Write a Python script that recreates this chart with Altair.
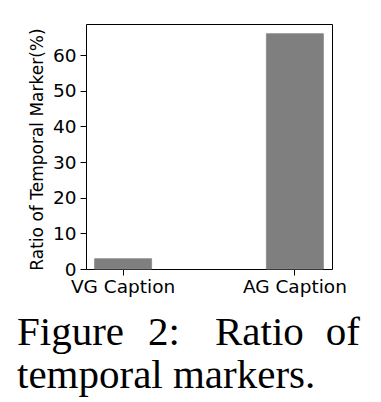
import altair as alt
import pandas as pd

categories = ["VG Caption", "AG Caption"]
values = [2.9, 66.0]
y_ticks = [0, 10, 20, 30, 40, 50, 60]
y_title = "Ratio of Temporal Marker(%)"
caption_line1 = ["Figure", "2:", "Ratio", "of"]
caption_line2 = "temporal markers."

df = pd.DataFrame({"cat": categories, "val": values})

W, H = 246, 245

bars = alt.Chart(df).mark_bar(color="#7f7f7f", stroke="#8a8a8a", strokeWidth=0.8).encode(
    x=alt.X("cat:N", sort=categories,
            scale=alt.Scale(paddingInner=0.668, paddingOuter=0.05),
            axis=alt.Axis(title=None, labelAngle=0, labelFont="DejaVu Sans", labelFontSize=18.5,
                          labelColor="black", tickColor="black", domainColor="black",
                          tickSize=6, labelPadding=2, tickWidth=1, domain=False)),
    y=alt.Y("val:Q", scale=alt.Scale(domain=[0, 68.7], nice=False, zero=True),
            axis=alt.Axis(values=y_ticks, title=y_title, grid=False, labelFont="DejaVu Sans",
                          labelFontSize=18.5, labelColor="black", tickColor="black",
                          tickSize=6, labelPadding=4, domain=False,
                          titleFont="DejaVu Sans", titleFontSize=17, titleFontWeight="normal",
                          titleColor="black", titleX=-40, titleY=125)),
)

cap_font = "Liberation Serif"
cap_size = 41
line1_x = [-69, 62, 129, 274]
line1_align = ["left", "left", "left", "right"]
layers = [bars]
for word, xv, al in zip(caption_line1, line1_x, line1_align):
    layers.append(
        alt.Chart(df.head(1)).mark_text(text=word, font=cap_font, fontSize=cap_size, align=al,
                                        baseline="alphabetic", color="black").encode(
            x=alt.value(xv), y=alt.value(321))
    )
layers.append(
    alt.Chart(df.head(1)).mark_text(text=caption_line2, font=cap_font, fontSize=cap_size, align="left",
                                    baseline="alphabetic", color="black").encode(
        x=alt.value(-69), y=alt.value(364))
)

chart = alt.layer(*layers).properties(
    width=W, height=H,
    autosize=alt.AutoSizeParams(type="none"),
    padding={"left": 78, "top": 16, "right": 41, "bottom": 130},
).configure_view(stroke="black", strokeWidth=1)

chart.save("out.html", embed_options={"renderer": "svg", "actions": False})
